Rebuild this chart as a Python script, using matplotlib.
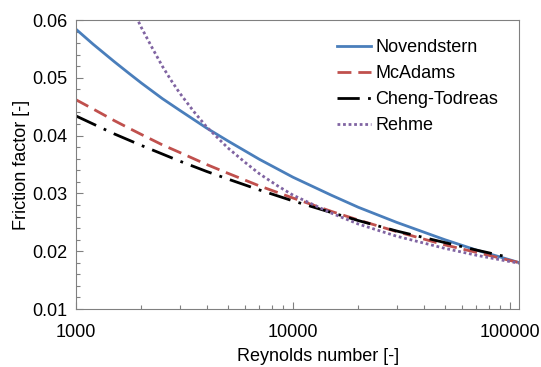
import matplotlib
matplotlib.use("Agg")
import matplotlib.pyplot as plt

plt.rcParams['font.family'] = ['Liberation Sans', 'DejaVu Sans']

# Reynolds numbers at which values were read
re_vals = [1000, 1200, 1500, 1750, 2000, 2500, 3000, 4000, 5000, 7000, 10000,
           15000, 20000, 30000, 50000, 70000, 100000, 120000]
novendstern = [0.0584, 0.0558, 0.0528, 0.0508, 0.0491, 0.0464, 0.0444, 0.0413,
               0.0391, 0.0359, 0.0328, 0.0297, 0.0276, 0.0250, 0.0220, 0.0202,
               0.0185, 0.0176]
mcadams = [0.0462, 0.0446, 0.0426, 0.0413, 0.0402, 0.0384, 0.0371, 0.0350,
           0.0335, 0.0313, 0.0292, 0.0269, 0.0254, 0.0234, 0.0211, 0.0198,
           0.0184, 0.0177]

re_ct = [1000, 1500, 2000, 3000, 4000, 5000, 7000, 10000, 15000, 20000,
         30000, 50000, 70000, 100000]
cheng_todreas = [0.0434, 0.0403, 0.0383, 0.0356, 0.0338, 0.0325, 0.0306, 0.0287,
                 0.0267, 0.0253, 0.0235, 0.0215, 0.0202, 0.0189]

re_rehme = [1800, 2000, 2250, 2500, 2750, 3000, 3500, 4000, 5000, 6000, 7000,
            8500, 10000, 15000, 20000, 30000, 50000, 70000, 100000, 120000]
rehme = [0.0623, 0.0587, 0.0551, 0.0520, 0.0495, 0.0474, 0.0441, 0.0415,
         0.0379, 0.0354, 0.0334, 0.0313, 0.0297, 0.0266, 0.0247, 0.0226,
         0.0205, 0.0193, 0.0182, 0.0177]

y_ticks = [0.01, 0.02, 0.03, 0.04, 0.05, 0.06]
x_ticks = [1000, 10000, 100000]

fig = plt.figure(figsize=(5.41, 3.67), dpi=100)
ax = fig.add_axes([0.1405, 0.158, 0.8188, 0.7875])

ax.plot(re_vals, novendstern, color='#4A7EBB', lw=2.0, label='Novendstern')
ax.plot(re_vals, mcadams, color='#C0504D', lw=2.0, dashes=(5, 2.5), label='McAdams')
ax.plot(re_ct, cheng_todreas, color='black', lw=2.0, dashes=(8, 3, 1, 3),
        label='Cheng-Todreas')
ax.plot(re_rehme, rehme, color='#8064A2', lw=2.0, dashes=(1, 1), label='Rehme')

ax.set_xscale('log')
ax.set_xlim(1000, 110000)
ax.set_ylim(0.01, 0.06)
ax.set_xticks(x_ticks)
ax.set_xticklabels([str(v) for v in x_ticks])
ax.set_yticks(y_ticks)
ax.set_yticklabels([f"{v:.2f}" for v in y_ticks])
ax.set_yticks([0.01 + 0.002 * i for i in range(26)], minor=True)

for s in ax.spines.values():
    s.set_color('#808080')
    s.set_linewidth(0.8)

ax.tick_params(axis='both', which='major', direction='in', length=5, width=0.8,
               color='#808080', labelsize=13)
ax.tick_params(axis='both', which='minor', direction='in', length=3, width=0.8,
               color='#808080')
ax.tick_params(axis='x', which='major', pad=10.5)
ax.tick_params(axis='y', which='major', pad=6)

ax.set_xlabel('Reynolds number [-]', fontsize=13, labelpad=6)
ax.xaxis.set_label_coords(0.546, -0.135)
ax.set_ylabel('Friction factor [-]', fontsize=13, labelpad=2)

leg = ax.legend(loc='upper left', bbox_to_anchor=(0.589, 0.933), frameon=False,
                fontsize=13, handlelength=1.9, handletextpad=0.22,
                labelspacing=0.5, borderpad=0, borderaxespad=0)

fig.savefig('out.png', dpi=100)
